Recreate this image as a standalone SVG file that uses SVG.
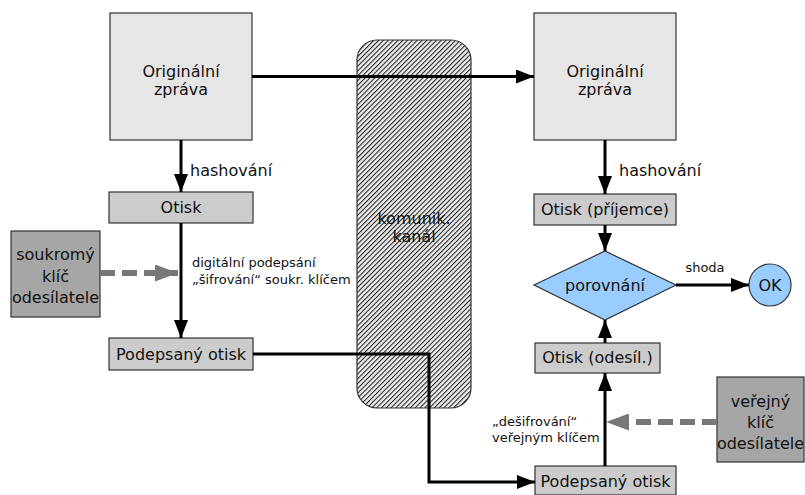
<svg xmlns="http://www.w3.org/2000/svg" width="805" height="495" viewBox="0 0 805 495">
  <defs>
    <style>
      text { font-family: "DejaVu Sans", "Liberation Sans", sans-serif; fill: #111; }
      .t { font-size: 16px; text-anchor: middle; }
      .s { font-size: 13px; }
      .lbl { font-size: 16px; }
      .big { fill: #e6e6e6; stroke: #333; stroke-width: 1.2; }
      .small { fill: #cccccc; stroke: #333; stroke-width: 1.2; }
      .key { fill: #a6a6a6; stroke: #333; stroke-width: 1.2; }
      .flow { fill: none; stroke: #000; stroke-width: 3; marker-end: url(#arrow); }
      .dash { fill: none; stroke: #777; stroke-width: 6; stroke-dasharray: 15 7; marker-end: url(#garrow); }
    </style>
    <marker id="arrow" markerUnits="userSpaceOnUse" markerWidth="18" markerHeight="14" refX="18" refY="7" orient="auto">
      <path d="M0,0 L18,7 L0,14 z" fill="#000"/>
    </marker>
    <marker id="garrow" markerUnits="userSpaceOnUse" markerWidth="23" markerHeight="17" refX="23" refY="8.5" orient="auto">
      <path d="M0,0 L23,8.5 L0,17 z" fill="#777"/>
    </marker>
    <pattern id="hatch" patternUnits="userSpaceOnUse" width="3.4" height="10" patternTransform="rotate(45)">
      <rect width="3.4" height="10" fill="#ececec"/>
      <line x1="0.5" y1="0" x2="0.5" y2="10" stroke="#1a1a1a" stroke-width="1"/>
    </pattern>
  </defs>
  <rect width="805" height="495" fill="#fff"/>

  <!-- communication channel -->
  <g id="kanal">
    <rect x="357" y="40" width="114" height="368" rx="20" ry="20" fill="url(#hatch)" stroke="#333" stroke-width="1.2"/>
    <text class="t" x="414" y="224">komunik.</text>
    <text class="t" x="414" y="242">kanál</text>
  </g>

  <!-- sender side -->
  <g id="zprava-odesilatel">
    <rect class="big" x="110" y="13" width="142" height="127"/>
    <text class="t" x="181" y="77">Originální</text>
    <text class="t" x="181" y="95">zpráva</text>
  </g>
  <g id="otisk-odesilatel">
    <rect class="small" x="109" y="192" width="144" height="31"/>
    <text class="t" x="181" y="213">Otisk</text>
  </g>
  <g id="soukromy-klic">
    <rect class="key" x="11" y="231" width="89" height="86"/>
    <text class="t" x="55.5" y="260">soukromý</text>
    <text class="t" x="55.5" y="281.5">klíč</text>
    <text class="t" x="55.5" y="303">odesílatele</text>
  </g>
  <g id="podepsany-otisk-odesilatel">
    <rect class="small" x="109" y="338" width="144" height="32"/>
    <text class="t" x="181" y="360">Podepsaný otisk</text>
  </g>

  <!-- receiver side -->
  <g id="zprava-prijemce">
    <rect class="big" x="534" y="13" width="142" height="127"/>
    <text class="t" x="605" y="77">Originální</text>
    <text class="t" x="605" y="95">zpráva</text>
  </g>
  <g id="otisk-prijemce">
    <rect class="small" x="534" y="194" width="142" height="31"/>
    <text class="t" x="605" y="215">Otisk (příjemce)</text>
  </g>
  <g id="porovnani">
    <polygon points="534,285 605,251 676,285 605,320" fill="#99ccff" stroke="#333" stroke-width="1.2"/>
    <text class="t" x="605" y="291">porovnání</text>
  </g>
  <g id="ok">
    <circle cx="770" cy="285" r="21" fill="#99ccff" stroke="#333" stroke-width="1.2"/>
    <text class="t" x="770" y="291">OK</text>
  </g>
  <g id="otisk-odesil">
    <rect class="small" x="535" y="343" width="125" height="30"/>
    <text class="t" x="597.5" y="363">Otisk (odesíl.)</text>
  </g>
  <g id="verejny-klic">
    <rect class="key" x="717" y="377" width="87" height="85"/>
    <text class="t" x="760.5" y="406.5">veřejný</text>
    <text class="t" x="760.5" y="427.5">klíč</text>
    <text class="t" x="760.5" y="448.5">odesílatele</text>
  </g>
  <g id="podepsany-otisk-prijemce">
    <rect class="small" x="535" y="466" width="141" height="29"/>
    <text class="t" x="605.5" y="487">Podepsaný otisk</text>
  </g>

  <!-- connectors -->
  <g id="connectors">
    <path class="flow" d="M252,76.5 H534"/>
    <path class="flow" d="M181,140 V192"/>
    <path class="flow" d="M181,223 V338"/>
    <path class="flow" d="M253,354 H429 V482 H535"/>
    <path class="flow" d="M605,140 V194"/>
    <path class="flow" d="M605,225 V251"/>
    <path class="flow" d="M605,466 V373"/>
    <path class="flow" d="M605,343 V320"/>
    <path class="flow" d="M676,285 H749"/>
    <path class="dash" d="M100,273 H178"/>
    <path class="dash" d="M717,422 H606"/>
    <text class="lbl" x="190" y="176">hashování</text>
    <text class="lbl" x="619" y="176">hashování</text>
    <text class="s" x="192" y="267">digitální podepsání</text>
    <text class="s" x="192" y="284">„šifrování“ soukr. klíčem</text>
    <text class="s" x="492" y="426">„dešifrování“</text>
    <text class="s" x="492" y="442">veřejným klíčem</text>
    <text class="s" x="705" y="272" text-anchor="middle">shoda</text>
  </g>
</svg>
